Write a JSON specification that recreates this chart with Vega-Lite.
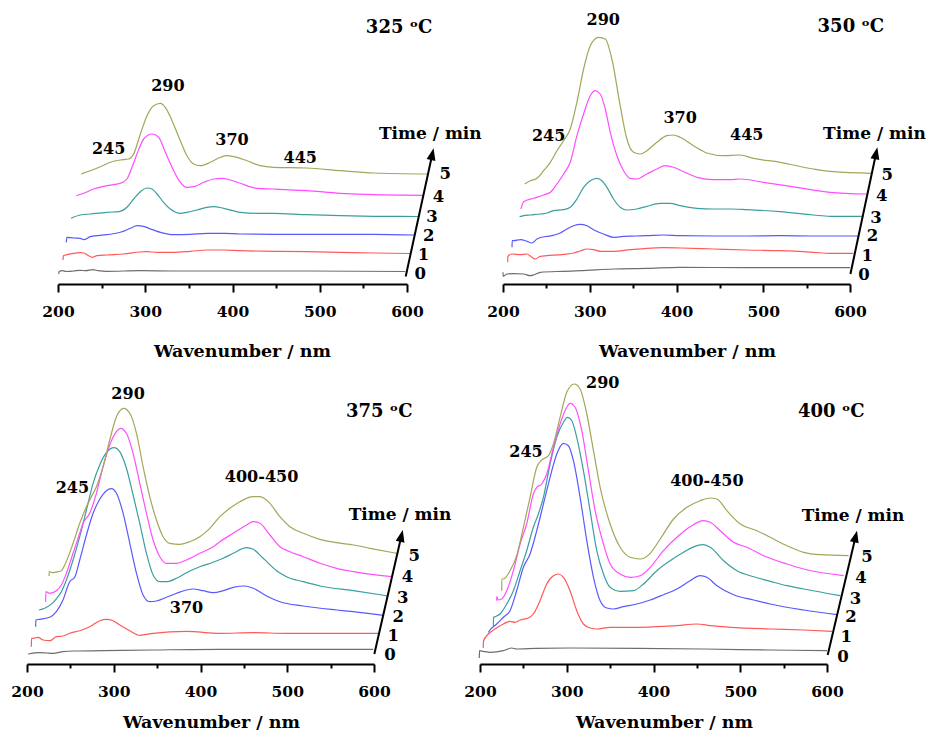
{
  "$schema": "https://vega.github.io/schema/vega-lite/v6.json",
  "padding": 0,
  "background": "white",
  "config": {
    "view": {"stroke": null},
    "axis": {
      "domainColor": "black", "domainWidth": 2, "tickColor": "black", "tickWidth": 2,
      "labelFont": "DejaVu Serif", "labelFontWeight": "bold", "labelFontSize": 15.5, "labelColor": "black",
      "labelPadding": 12, "labelFlush": false, "labelOverlap": false,
      "titleFont": "DejaVu Serif", "titleFontWeight": "bold", "titleFontSize": 17.5, "titleColor": "black",
      "titleX": 184, "titleY": 72, "titleBaseline": "alphabetic", "titleAlign": "center", "grid": false
    }
  },
  "datasets": {
    "spec": [
      {"p":1,"t":0,"nm":200.8,"a":10},{"p":1,"t":0,"nm":201.2,"a":12.5},{"p":1,"t":0,"nm":205,"a":13.3},{"p":1,"t":0,"nm":210,"a":12.5},{"p":1,"t":0,"nm":218,"a":13},{"p":1,"t":0,"nm":225,"a":13.7},{"p":1,"t":0,"nm":232,"a":13.3},{"p":1,"t":0,"nm":240,"a":14.3},{"p":1,"t":0,"nm":246,"a":13.3},{"p":1,"t":0,"nm":256,"a":12.7},{"p":1,"t":0,"nm":294,"a":13.3},{"p":1,"t":0,"nm":333,"a":13},{"p":1,"t":0,"nm":409,"a":13},{"p":1,"t":0,"nm":485,"a":13},{"p":1,"t":0,"nm":598,"a":12.5},
      {"p":1,"t":1,"nm":205.7,"a":24},{"p":1,"t":1,"nm":206.2,"a":28.3},{"p":1,"t":1,"nm":210.3,"a":29.3},{"p":1,"t":1,"nm":218,"a":30.7},{"p":1,"t":1,"nm":225.6,"a":31.3},{"p":1,"t":1,"nm":229.4,"a":31},{"p":1,"t":1,"nm":235,"a":28.3},{"p":1,"t":1,"nm":239,"a":26.7},{"p":1,"t":1,"nm":244.7,"a":28.3},{"p":1,"t":1,"nm":256,"a":29},{"p":1,"t":1,"nm":275,"a":30},{"p":1,"t":1,"nm":294,"a":32},{"p":1,"t":1,"nm":302,"a":32.3},{"p":1,"t":1,"nm":313.5,"a":31.7},{"p":1,"t":1,"nm":332.6,"a":31.7},{"p":1,"t":1,"nm":351.7,"a":32.7},{"p":1,"t":1,"nm":370.8,"a":34},{"p":1,"t":1,"nm":389.9,"a":34},{"p":1,"t":1,"nm":409,"a":33.3},{"p":1,"t":1,"nm":447,"a":32.7},{"p":1,"t":1,"nm":485,"a":32.3},{"p":1,"t":1,"nm":523.6,"a":31.7},{"p":1,"t":1,"nm":561.8,"a":31},{"p":1,"t":1,"nm":603.8,"a":30.5},
      {"p":1,"t":2,"nm":209.6,"a":41.7},{"p":1,"t":2,"nm":210.1,"a":46.7},{"p":1,"t":2,"nm":218,"a":46},{"p":1,"t":2,"nm":225.6,"a":45.7},{"p":1,"t":2,"nm":229.4,"a":44.3},{"p":1,"t":2,"nm":237,"a":47.3},{"p":1,"t":2,"nm":256,"a":49.3},{"p":1,"t":2,"nm":271.4,"a":51.7},{"p":1,"t":2,"nm":283,"a":55.7},{"p":1,"t":2,"nm":290.5,"a":58.3},{"p":1,"t":2,"nm":298,"a":57.7},{"p":1,"t":2,"nm":306,"a":55},{"p":1,"t":2,"nm":317.3,"a":51.7},{"p":1,"t":2,"nm":332.6,"a":49.3},{"p":1,"t":2,"nm":351.7,"a":49.7},{"p":1,"t":2,"nm":370.8,"a":50.7},{"p":1,"t":2,"nm":389.9,"a":50.7},{"p":1,"t":2,"nm":409,"a":50},{"p":1,"t":2,"nm":447,"a":49.7},{"p":1,"t":2,"nm":485,"a":49.7},{"p":1,"t":2,"nm":561.8,"a":49.7},{"p":1,"t":2,"nm":609,"a":49},
      {"p":1,"t":3,"nm":214.9,"a":65.7},{"p":1,"t":3,"nm":225.6,"a":69},{"p":1,"t":3,"nm":237,"a":70},{"p":1,"t":3,"nm":256,"a":71.7},{"p":1,"t":3,"nm":271.4,"a":72.7},{"p":1,"t":3,"nm":279,"a":76.7},{"p":1,"t":3,"nm":286.7,"a":85},{"p":1,"t":3,"nm":294.4,"a":92.3},{"p":1,"t":3,"nm":302,"a":96},{"p":1,"t":3,"nm":307.7,"a":95},{"p":1,"t":3,"nm":313.5,"a":90},{"p":1,"t":3,"nm":321,"a":81.7},{"p":1,"t":3,"nm":328.7,"a":75},{"p":1,"t":3,"nm":340.2,"a":70.7},{"p":1,"t":3,"nm":347.8,"a":71.7},{"p":1,"t":3,"nm":359.3,"a":74},{"p":1,"t":3,"nm":370.8,"a":76.7},{"p":1,"t":3,"nm":378.4,"a":77.3},{"p":1,"t":3,"nm":389.9,"a":75.7},{"p":1,"t":3,"nm":409,"a":71.7},{"p":1,"t":3,"nm":428,"a":70.7},{"p":1,"t":3,"nm":447,"a":70.7},{"p":1,"t":3,"nm":485,"a":69.3},{"p":1,"t":3,"nm":523.6,"a":68.3},{"p":1,"t":3,"nm":561.8,"a":67.7},{"p":1,"t":3,"nm":614,"a":67.5},
      {"p":1,"t":4,"nm":221,"a":88.3},{"p":1,"t":4,"nm":229.4,"a":90.7},{"p":1,"t":4,"nm":240.9,"a":95},{"p":1,"t":4,"nm":256,"a":98.3},{"p":1,"t":4,"nm":271.4,"a":100.7},{"p":1,"t":4,"nm":279,"a":105},{"p":1,"t":4,"nm":284.8,"a":116.7},{"p":1,"t":4,"nm":290.5,"a":130},{"p":1,"t":4,"nm":298.2,"a":145},{"p":1,"t":4,"nm":307.7,"a":150},{"p":1,"t":4,"nm":315.4,"a":146.7},{"p":1,"t":4,"nm":323,"a":131.7},{"p":1,"t":4,"nm":332.6,"a":113.3},{"p":1,"t":4,"nm":340.2,"a":101.7},{"p":1,"t":4,"nm":347.8,"a":96.7},{"p":1,"t":4,"nm":355.5,"a":97.3},{"p":1,"t":4,"nm":367,"a":101.7},{"p":1,"t":4,"nm":378.4,"a":105},{"p":1,"t":4,"nm":388,"a":105.7},{"p":1,"t":4,"nm":397.5,"a":104},{"p":1,"t":4,"nm":409,"a":100.7},{"p":1,"t":4,"nm":428,"a":95.7},{"p":1,"t":4,"nm":447,"a":95},{"p":1,"t":4,"nm":485,"a":93.3},{"p":1,"t":4,"nm":523.6,"a":90.7},{"p":1,"t":4,"nm":561.8,"a":89.3},{"p":1,"t":4,"nm":619,"a":88.7},
      {"p":1,"t":5,"nm":226.7,"a":110},{"p":1,"t":5,"nm":237,"a":113.3},{"p":1,"t":5,"nm":248.5,"a":117.3},{"p":1,"t":5,"nm":260,"a":121.7},{"p":1,"t":5,"nm":271.4,"a":124},{"p":1,"t":5,"nm":281,"a":125},{"p":1,"t":5,"nm":286.7,"a":130},{"p":1,"t":5,"nm":294.4,"a":150},{"p":1,"t":5,"nm":302,"a":168.3},{"p":1,"t":5,"nm":309.6,"a":178.3},{"p":1,"t":5,"nm":317.3,"a":180.7},{"p":1,"t":5,"nm":323,"a":176.7},{"p":1,"t":5,"nm":330.7,"a":163.3},{"p":1,"t":5,"nm":340.2,"a":143.3},{"p":1,"t":5,"nm":347.8,"a":128.3},{"p":1,"t":5,"nm":355.5,"a":120},{"p":1,"t":5,"nm":363.1,"a":118.3},{"p":1,"t":5,"nm":374.6,"a":121.7},{"p":1,"t":5,"nm":386.1,"a":126.7},{"p":1,"t":5,"nm":393.7,"a":128.3},{"p":1,"t":5,"nm":405.2,"a":126.7},{"p":1,"t":5,"nm":416.6,"a":123.3},{"p":1,"t":5,"nm":431.9,"a":118.3},{"p":1,"t":5,"nm":447,"a":116.7},{"p":1,"t":5,"nm":485,"a":116},{"p":1,"t":5,"nm":523.6,"a":113.3},{"p":1,"t":5,"nm":561.8,"a":111},{"p":1,"t":5,"nm":624.5,"a":110},

      {"p":2,"t":0,"nm":200,"a":11.7},{"p":2,"t":0,"nm":200.2,"a":7.7},{"p":2,"t":0,"nm":204.6,"a":10},{"p":2,"t":0,"nm":212.3,"a":10.3},{"p":2,"t":0,"nm":223.8,"a":10},{"p":2,"t":0,"nm":231.5,"a":8.3},{"p":2,"t":0,"nm":235.3,"a":9},{"p":2,"t":0,"nm":243,"a":11.7},{"p":2,"t":0,"nm":269.9,"a":12.7},{"p":2,"t":0,"nm":289.1,"a":13.3},{"p":2,"t":0,"nm":327.4,"a":15},{"p":2,"t":0,"nm":365.8,"a":15.7},{"p":2,"t":0,"nm":404.2,"a":16.7},{"p":2,"t":0,"nm":481,"a":16.3},{"p":2,"t":0,"nm":557.8,"a":16.3},{"p":2,"t":0,"nm":600,"a":16.3},
      {"p":2,"t":1,"nm":205.4,"a":21.7},{"p":2,"t":1,"nm":205.6,"a":27.7},{"p":2,"t":1,"nm":210.4,"a":30},{"p":2,"t":1,"nm":220,"a":29.3},{"p":2,"t":1,"nm":227.6,"a":30},{"p":2,"t":1,"nm":233.4,"a":26.7},{"p":2,"t":1,"nm":237.2,"a":25},{"p":2,"t":1,"nm":243,"a":27.7},{"p":2,"t":1,"nm":250.7,"a":28.3},{"p":2,"t":1,"nm":269.9,"a":29.7},{"p":2,"t":1,"nm":281.4,"a":31},{"p":2,"t":1,"nm":289.1,"a":33},{"p":2,"t":1,"nm":296.7,"a":35},{"p":2,"t":1,"nm":304.4,"a":34.3},{"p":2,"t":1,"nm":312.1,"a":32.7},{"p":2,"t":1,"nm":327.4,"a":32.7},{"p":2,"t":1,"nm":346.6,"a":34.3},{"p":2,"t":1,"nm":365.8,"a":35.7},{"p":2,"t":1,"nm":385,"a":36.3},{"p":2,"t":1,"nm":404.2,"a":36},{"p":2,"t":1,"nm":442.6,"a":35},{"p":2,"t":1,"nm":481,"a":34},{"p":2,"t":1,"nm":519.4,"a":33.3},{"p":2,"t":1,"nm":557.8,"a":31.7},{"p":2,"t":1,"nm":577,"a":30.7},{"p":2,"t":1,"nm":603.8,"a":30.7},
      {"p":2,"t":2,"nm":210.4,"a":36.7},{"p":2,"t":2,"nm":210.6,"a":43.3},{"p":2,"t":2,"nm":212.3,"a":43.3},{"p":2,"t":2,"nm":220,"a":44.3},{"p":2,"t":2,"nm":227.6,"a":42.7},{"p":2,"t":2,"nm":233.4,"a":41},{"p":2,"t":2,"nm":239.2,"a":45},{"p":2,"t":2,"nm":250.7,"a":47.7},{"p":2,"t":2,"nm":256.4,"a":48.3},{"p":2,"t":2,"nm":266,"a":51},{"p":2,"t":2,"nm":273.7,"a":55},{"p":2,"t":2,"nm":281.4,"a":58.3},{"p":2,"t":2,"nm":289.1,"a":59.7},{"p":2,"t":2,"nm":296.7,"a":58.3},{"p":2,"t":2,"nm":304.4,"a":54.3},{"p":2,"t":2,"nm":315.9,"a":50},{"p":2,"t":2,"nm":327.4,"a":46.7},{"p":2,"t":2,"nm":339,"a":47.7},{"p":2,"t":2,"nm":354.3,"a":48},{"p":2,"t":2,"nm":365.8,"a":48.3},{"p":2,"t":2,"nm":385,"a":49},{"p":2,"t":2,"nm":404.2,"a":48.3},{"p":2,"t":2,"nm":442.6,"a":48},{"p":2,"t":2,"nm":481,"a":48},{"p":2,"t":2,"nm":519.4,"a":48.3},{"p":2,"t":2,"nm":557.8,"a":48},{"p":2,"t":2,"nm":609.6,"a":48},
      {"p":2,"t":3,"nm":219.2,"a":67.3},{"p":2,"t":3,"nm":223.8,"a":68.3},{"p":2,"t":3,"nm":231.5,"a":69},{"p":2,"t":3,"nm":243,"a":70},{"p":2,"t":3,"nm":250.7,"a":71},{"p":2,"t":3,"nm":258.3,"a":73.3},{"p":2,"t":3,"nm":269.9,"a":74.3},{"p":2,"t":3,"nm":277.5,"a":76.7},{"p":2,"t":3,"nm":285.2,"a":85},{"p":2,"t":3,"nm":292.9,"a":96.7},{"p":2,"t":3,"nm":300.6,"a":103.3},{"p":2,"t":3,"nm":308.3,"a":105.7},{"p":2,"t":3,"nm":314,"a":103.3},{"p":2,"t":3,"nm":319.8,"a":96.7},{"p":2,"t":3,"nm":327.4,"a":85},{"p":2,"t":3,"nm":335.1,"a":76.7},{"p":2,"t":3,"nm":342.8,"a":74},{"p":2,"t":3,"nm":354.3,"a":75},{"p":2,"t":3,"nm":365.8,"a":77.7},{"p":2,"t":3,"nm":381.2,"a":80.7},{"p":2,"t":3,"nm":392.7,"a":80.7},{"p":2,"t":3,"nm":404.2,"a":78.3},{"p":2,"t":3,"nm":423.4,"a":75.7},{"p":2,"t":3,"nm":442.6,"a":75},{"p":2,"t":3,"nm":461.8,"a":75},{"p":2,"t":3,"nm":481,"a":74.3},{"p":2,"t":3,"nm":519.4,"a":72.3},{"p":2,"t":3,"nm":557.8,"a":69},{"p":2,"t":3,"nm":577,"a":67.7},{"p":2,"t":3,"nm":615.4,"a":67.7},
      {"p":2,"t":4,"nm":220.7,"a":75},{"p":2,"t":4,"nm":223.8,"a":82.3},{"p":2,"t":4,"nm":235.3,"a":85.7},{"p":2,"t":4,"nm":246.8,"a":89},{"p":2,"t":4,"nm":254.5,"a":91.7},{"p":2,"t":4,"nm":262.2,"a":100},{"p":2,"t":4,"nm":269.9,"a":110},{"p":2,"t":4,"nm":277.5,"a":121.7},{"p":2,"t":4,"nm":285.2,"a":148.3},{"p":2,"t":4,"nm":292.9,"a":170},{"p":2,"t":4,"nm":300.6,"a":188.3},{"p":2,"t":4,"nm":306.3,"a":193.3},{"p":2,"t":4,"nm":312.1,"a":190},{"p":2,"t":4,"nm":317.9,"a":175},{"p":2,"t":4,"nm":323.6,"a":151.7},{"p":2,"t":4,"nm":331.3,"a":128.3},{"p":2,"t":4,"nm":339,"a":113.3},{"p":2,"t":4,"nm":346.6,"a":105.7},{"p":2,"t":4,"nm":354.3,"a":105},{"p":2,"t":4,"nm":365.8,"a":110},{"p":2,"t":4,"nm":377.4,"a":115},{"p":2,"t":4,"nm":387,"a":118.3},{"p":2,"t":4,"nm":396.5,"a":116.7},{"p":2,"t":4,"nm":408.1,"a":112.3},{"p":2,"t":4,"nm":423.4,"a":106.7},{"p":2,"t":4,"nm":442.6,"a":104.3},{"p":2,"t":4,"nm":461.8,"a":104.3},{"p":2,"t":4,"nm":473.3,"a":105},{"p":2,"t":4,"nm":500.2,"a":101.7},{"p":2,"t":4,"nm":538.6,"a":96.7},{"p":2,"t":4,"nm":577,"a":91.7},{"p":2,"t":4,"nm":619.2,"a":90},
      {"p":2,"t":5,"nm":225,"a":100},{"p":2,"t":5,"nm":231.5,"a":103.3},{"p":2,"t":5,"nm":239.2,"a":105.7},{"p":2,"t":5,"nm":246.8,"a":113.3},{"p":2,"t":5,"nm":254.5,"a":121.7},{"p":2,"t":5,"nm":262.2,"a":133.3},{"p":2,"t":5,"nm":269.9,"a":143.3},{"p":2,"t":5,"nm":277.5,"a":155},{"p":2,"t":5,"nm":285.2,"a":181.7},{"p":2,"t":5,"nm":292.9,"a":215},{"p":2,"t":5,"nm":300.6,"a":238.3},{"p":2,"t":5,"nm":310.2,"a":246.7},{"p":2,"t":5,"nm":317.9,"a":245},{"p":2,"t":5,"nm":325.5,"a":225},{"p":2,"t":5,"nm":335.1,"a":178.3},{"p":2,"t":5,"nm":342.8,"a":145},{"p":2,"t":5,"nm":350.5,"a":131.7},{"p":2,"t":5,"nm":358.2,"a":130},{"p":2,"t":5,"nm":365.8,"a":133.3},{"p":2,"t":5,"nm":377.4,"a":141.7},{"p":2,"t":5,"nm":388.9,"a":148.3},{"p":2,"t":5,"nm":396.5,"a":149},{"p":2,"t":5,"nm":404.2,"a":146.7},{"p":2,"t":5,"nm":419.6,"a":138.3},{"p":2,"t":5,"nm":434.9,"a":131},{"p":2,"t":5,"nm":454.1,"a":128.3},{"p":2,"t":5,"nm":473.3,"a":129},{"p":2,"t":5,"nm":488.7,"a":125.7},{"p":2,"t":5,"nm":519.4,"a":121.7},{"p":2,"t":5,"nm":557.8,"a":115},{"p":2,"t":5,"nm":580.8,"a":112.3},{"p":2,"t":5,"nm":624.9,"a":110.7},

      {"p":3,"t":0,"nm":201.2,"a":10},{"p":3,"t":0,"nm":214.6,"a":11.3},{"p":3,"t":0,"nm":222.3,"a":11},{"p":3,"t":0,"nm":230,"a":10.7},{"p":3,"t":0,"nm":241.5,"a":12.3},{"p":3,"t":0,"nm":253.1,"a":13},{"p":3,"t":0,"nm":287.7,"a":13.3},{"p":3,"t":0,"nm":345.4,"a":14},{"p":3,"t":0,"nm":422.3,"a":14.7},{"p":3,"t":0,"nm":499.2,"a":14.7},{"p":3,"t":0,"nm":599.2,"a":14.7},
      {"p":3,"t":1,"nm":205,"a":17.3},{"p":3,"t":1,"nm":205.2,"a":25.7},{"p":3,"t":1,"nm":206.9,"a":25.7},{"p":3,"t":1,"nm":212.7,"a":26.7},{"p":3,"t":1,"nm":218.5,"a":24},{"p":3,"t":1,"nm":226.2,"a":23.3},{"p":3,"t":1,"nm":233.8,"a":27.3},{"p":3,"t":1,"nm":241.5,"a":28},{"p":3,"t":1,"nm":249.2,"a":30.7},{"p":3,"t":1,"nm":260.8,"a":33.3},{"p":3,"t":1,"nm":272.3,"a":37.3},{"p":3,"t":1,"nm":283.8,"a":43.3},{"p":3,"t":1,"nm":291.5,"a":44.7},{"p":3,"t":1,"nm":299.2,"a":43.3},{"p":3,"t":1,"nm":306.9,"a":39},{"p":3,"t":1,"nm":318.5,"a":33.3},{"p":3,"t":1,"nm":330,"a":28.7},{"p":3,"t":1,"nm":345.4,"a":30.7},{"p":3,"t":1,"nm":383.8,"a":32.7},{"p":3,"t":1,"nm":422.3,"a":30.7},{"p":3,"t":1,"nm":460.8,"a":31.3},{"p":3,"t":1,"nm":499.2,"a":30.7},{"p":3,"t":1,"nm":537.7,"a":30.7},{"p":3,"t":1,"nm":576.2,"a":30.7},{"p":3,"t":1,"nm":605,"a":30.7},
      {"p":3,"t":2,"nm":210,"a":37.3},{"p":3,"t":2,"nm":210.2,"a":44},{"p":3,"t":2,"nm":214.6,"a":44.7},{"p":3,"t":2,"nm":226.2,"a":46.7},{"p":3,"t":2,"nm":233.8,"a":52.3},{"p":3,"t":2,"nm":241.5,"a":64},{"p":3,"t":2,"nm":249.2,"a":82.3},{"p":3,"t":2,"nm":255,"a":86.7},{"p":3,"t":2,"nm":260.8,"a":104},{"p":3,"t":2,"nm":268.5,"a":129},{"p":3,"t":2,"nm":276.2,"a":150.7},{"p":3,"t":2,"nm":283.8,"a":164.7},{"p":3,"t":2,"nm":291.5,"a":173.3},{"p":3,"t":2,"nm":297.3,"a":175.3},{"p":3,"t":2,"nm":303.1,"a":170.7},{"p":3,"t":2,"nm":310.8,"a":150.7},{"p":3,"t":2,"nm":318.5,"a":120.7},{"p":3,"t":2,"nm":326.2,"a":90.7},{"p":3,"t":2,"nm":333.8,"a":69},{"p":3,"t":2,"nm":341.5,"a":62.3},{"p":3,"t":2,"nm":349.2,"a":63},{"p":3,"t":2,"nm":360.8,"a":66.7},{"p":3,"t":2,"nm":372.3,"a":70.7},{"p":3,"t":2,"nm":383.8,"a":74},{"p":3,"t":2,"nm":391.5,"a":75},{"p":3,"t":2,"nm":403.1,"a":73.3},{"p":3,"t":2,"nm":414.6,"a":71.3},{"p":3,"t":2,"nm":426.2,"a":73.3},{"p":3,"t":2,"nm":437.7,"a":76.7},{"p":3,"t":2,"nm":451.2,"a":78},{"p":3,"t":2,"nm":460.8,"a":75.7},{"p":3,"t":2,"nm":476.2,"a":68},{"p":3,"t":2,"nm":491.5,"a":62.3},{"p":3,"t":2,"nm":518.5,"a":58},{"p":3,"t":2,"nm":556.9,"a":54},{"p":3,"t":2,"nm":576.2,"a":52.3},{"p":3,"t":2,"nm":610.8,"a":48.7},
      {"p":3,"t":3,"nm":213.8,"a":54},{"p":3,"t":3,"nm":220.4,"a":55.7},{"p":3,"t":3,"nm":230,"a":61.3},{"p":3,"t":3,"nm":235.8,"a":67.3},{"p":3,"t":3,"nm":239.6,"a":72.3},{"p":3,"t":3,"nm":245.4,"a":84},{"p":3,"t":3,"nm":253.1,"a":104},{"p":3,"t":3,"nm":260.8,"a":127.3},{"p":3,"t":3,"nm":268.5,"a":154},{"p":3,"t":3,"nm":276.2,"a":180.7},{"p":3,"t":3,"nm":283.8,"a":199},{"p":3,"t":3,"nm":291.5,"a":211.3},{"p":3,"t":3,"nm":300.4,"a":216.3},{"p":3,"t":3,"nm":306.9,"a":212.3},{"p":3,"t":3,"nm":314.6,"a":195.7},{"p":3,"t":3,"nm":322.3,"a":169},{"p":3,"t":3,"nm":330,"a":140.7},{"p":3,"t":3,"nm":337.7,"a":110.7},{"p":3,"t":3,"nm":345.4,"a":89},{"p":3,"t":3,"nm":353.1,"a":82.3},{"p":3,"t":3,"nm":360.8,"a":82.3},{"p":3,"t":3,"nm":372.3,"a":85.7},{"p":3,"t":3,"nm":383.8,"a":91.3},{"p":3,"t":3,"nm":399.2,"a":97.3},{"p":3,"t":3,"nm":414.6,"a":101.7},{"p":3,"t":3,"nm":426.2,"a":105.7},{"p":3,"t":3,"nm":437.7,"a":110.7},{"p":3,"t":3,"nm":453.1,"a":116.3},{"p":3,"t":3,"nm":460.8,"a":114.7},{"p":3,"t":3,"nm":472.3,"a":105.7},{"p":3,"t":3,"nm":487.7,"a":93.3},{"p":3,"t":3,"nm":499.2,"a":87.3},{"p":3,"t":3,"nm":518.5,"a":82.3},{"p":3,"t":3,"nm":537.7,"a":78},{"p":3,"t":3,"nm":576.2,"a":73.3},{"p":3,"t":3,"nm":616.5,"a":68},
      {"p":3,"t":4,"nm":221.5,"a":62.3},{"p":3,"t":4,"nm":221.7,"a":72.3},{"p":3,"t":4,"nm":226.2,"a":70.7},{"p":3,"t":4,"nm":233.8,"a":73.3},{"p":3,"t":4,"nm":239.6,"a":79},{"p":3,"t":4,"nm":245.4,"a":90.7},{"p":3,"t":4,"nm":253.1,"a":110.7},{"p":3,"t":4,"nm":260.8,"a":130.7},{"p":3,"t":4,"nm":264.6,"a":140.7},{"p":3,"t":4,"nm":272.3,"a":150.7},{"p":3,"t":4,"nm":280,"a":170.7},{"p":3,"t":4,"nm":287.7,"a":197.3},{"p":3,"t":4,"nm":295.4,"a":219},{"p":3,"t":4,"nm":303.1,"a":232.3},{"p":3,"t":4,"nm":307.7,"a":235.7},{"p":3,"t":4,"nm":314.6,"a":230.7},{"p":3,"t":4,"nm":322.3,"a":210.7},{"p":3,"t":4,"nm":330,"a":180.7},{"p":3,"t":4,"nm":337.7,"a":150.7},{"p":3,"t":4,"nm":345.4,"a":124},{"p":3,"t":4,"nm":353.1,"a":107.3},{"p":3,"t":4,"nm":360.8,"a":100.7},{"p":3,"t":4,"nm":372.3,"a":100.7},{"p":3,"t":4,"nm":383.8,"a":104},{"p":3,"t":4,"nm":399.2,"a":110.7},{"p":3,"t":4,"nm":414.6,"a":117.3},{"p":3,"t":4,"nm":422.3,"a":122.3},{"p":3,"t":4,"nm":437.7,"a":130.7},{"p":3,"t":4,"nm":453.1,"a":139},{"p":3,"t":4,"nm":460.8,"a":142.3},{"p":3,"t":4,"nm":468.5,"a":140.7},{"p":3,"t":4,"nm":480,"a":129},{"p":3,"t":4,"nm":491.5,"a":117.3},{"p":3,"t":4,"nm":503.1,"a":112.3},{"p":3,"t":4,"nm":518.5,"a":107.3},{"p":3,"t":4,"nm":537.7,"a":100.7},{"p":3,"t":4,"nm":556.9,"a":95.7},{"p":3,"t":4,"nm":576.2,"a":92.3},{"p":3,"t":4,"nm":620.4,"a":87.3},
      {"p":3,"t":5,"nm":225.4,"a":88},{"p":3,"t":5,"nm":225.6,"a":92.3},{"p":3,"t":5,"nm":230,"a":91.3},{"p":3,"t":5,"nm":235.8,"a":92.3},{"p":3,"t":5,"nm":239.6,"a":93.3},{"p":3,"t":5,"nm":243.5,"a":99},{"p":3,"t":5,"nm":253.1,"a":120.7},{"p":3,"t":5,"nm":260.8,"a":140.7},{"p":3,"t":5,"nm":268.5,"a":157.3},{"p":3,"t":5,"nm":274.2,"a":167.3},{"p":3,"t":5,"nm":280,"a":177.3},{"p":3,"t":5,"nm":287.7,"a":197.3},{"p":3,"t":5,"nm":295.4,"a":224},{"p":3,"t":5,"nm":303.1,"a":247.3},{"p":3,"t":5,"nm":311.5,"a":255.7},{"p":3,"t":5,"nm":318.5,"a":250.7},{"p":3,"t":5,"nm":326.2,"a":230.7},{"p":3,"t":5,"nm":333.8,"a":197.3},{"p":3,"t":5,"nm":341.5,"a":167.3},{"p":3,"t":5,"nm":349.2,"a":144},{"p":3,"t":5,"nm":356.9,"a":127.3},{"p":3,"t":5,"nm":364.6,"a":120.7},{"p":3,"t":5,"nm":376.2,"a":119.7},{"p":3,"t":5,"nm":387.7,"a":122.3},{"p":3,"t":5,"nm":399.2,"a":127.3},{"p":3,"t":5,"nm":410.8,"a":135.7},{"p":3,"t":5,"nm":422.3,"a":147.3},{"p":3,"t":5,"nm":433.8,"a":155.7},{"p":3,"t":5,"nm":445.4,"a":162.3},{"p":3,"t":5,"nm":460.8,"a":167.3},{"p":3,"t":5,"nm":468.5,"a":167.3},{"p":3,"t":5,"nm":480,"a":160.7},{"p":3,"t":5,"nm":491.5,"a":147.3},{"p":3,"t":5,"nm":503.1,"a":137.3},{"p":3,"t":5,"nm":518.5,"a":130.7},{"p":3,"t":5,"nm":537.7,"a":124.7},{"p":3,"t":5,"nm":556.9,"a":121.3},{"p":3,"t":5,"nm":576.2,"a":119},{"p":3,"t":5,"nm":595.4,"a":115.7},{"p":3,"t":5,"nm":626.2,"a":110.7},

      {"p":4,"t":0,"nm":199.2,"a":6},{"p":4,"t":0,"nm":199.4,"a":13.3},{"p":4,"t":0,"nm":203.8,"a":12.7},{"p":4,"t":0,"nm":211.5,"a":11.7},{"p":4,"t":0,"nm":226.9,"a":13.3},{"p":4,"t":0,"nm":236.5,"a":16},{"p":4,"t":0,"nm":242.3,"a":15},{"p":4,"t":0,"nm":265.4,"a":15.7},{"p":4,"t":0,"nm":303.8,"a":16},{"p":4,"t":0,"nm":380.8,"a":15.7},{"p":4,"t":0,"nm":457.7,"a":15},{"p":4,"t":0,"nm":534.6,"a":14},{"p":4,"t":0,"nm":600,"a":13.3},
      {"p":4,"t":1,"nm":203.8,"a":16},{"p":4,"t":1,"nm":204,"a":22.7},{"p":4,"t":1,"nm":209.6,"a":30},{"p":4,"t":1,"nm":217.3,"a":35},{"p":4,"t":1,"nm":226.9,"a":40},{"p":4,"t":1,"nm":234.6,"a":42.7},{"p":4,"t":1,"nm":240.4,"a":41.7},{"p":4,"t":1,"nm":246.2,"a":44},{"p":4,"t":1,"nm":255.8,"a":46},{"p":4,"t":1,"nm":261.5,"a":50},{"p":4,"t":1,"nm":269.2,"a":63.3},{"p":4,"t":1,"nm":276.9,"a":80},{"p":4,"t":1,"nm":284.6,"a":88.3},{"p":4,"t":1,"nm":290.4,"a":90},{"p":4,"t":1,"nm":296.2,"a":86.7},{"p":4,"t":1,"nm":303.8,"a":73.3},{"p":4,"t":1,"nm":311.5,"a":53.3},{"p":4,"t":1,"nm":319.2,"a":40},{"p":4,"t":1,"nm":326.9,"a":36},{"p":4,"t":1,"nm":334.6,"a":35},{"p":4,"t":1,"nm":350,"a":36.7},{"p":4,"t":1,"nm":380.8,"a":36.7},{"p":4,"t":1,"nm":403.8,"a":37.3},{"p":4,"t":1,"nm":426.9,"a":38.3},{"p":4,"t":1,"nm":450,"a":40},{"p":4,"t":1,"nm":465.4,"a":38.3},{"p":4,"t":1,"nm":488.5,"a":36.7},{"p":4,"t":1,"nm":534.6,"a":35},{"p":4,"t":1,"nm":573.1,"a":34},{"p":4,"t":1,"nm":605.8,"a":32.7},
      {"p":4,"t":2,"nm":209.6,"a":31.7},{"p":4,"t":2,"nm":211.5,"a":34},{"p":4,"t":2,"nm":219.2,"a":40},{"p":4,"t":2,"nm":226.9,"a":46.7},{"p":4,"t":2,"nm":234.6,"a":53.3},{"p":4,"t":2,"nm":242.3,"a":73.3},{"p":4,"t":2,"nm":250,"a":96.7},{"p":4,"t":2,"nm":257.7,"a":110},{"p":4,"t":2,"nm":265.4,"a":133.3},{"p":4,"t":2,"nm":273.1,"a":160},{"p":4,"t":2,"nm":280.8,"a":186.7},{"p":4,"t":2,"nm":288.5,"a":210},{"p":4,"t":2,"nm":296.2,"a":220.7},{"p":4,"t":2,"nm":301.9,"a":218.3},{"p":4,"t":2,"nm":307.7,"a":203.3},{"p":4,"t":2,"nm":315.4,"a":166.7},{"p":4,"t":2,"nm":323.1,"a":123.3},{"p":4,"t":2,"nm":330.8,"a":86.7},{"p":4,"t":2,"nm":338.5,"a":63.3},{"p":4,"t":2,"nm":346.2,"a":56},{"p":4,"t":2,"nm":353.8,"a":55},{"p":4,"t":2,"nm":365.4,"a":57.3},{"p":4,"t":2,"nm":380.8,"a":60},{"p":4,"t":2,"nm":396.2,"a":64},{"p":4,"t":2,"nm":411.5,"a":69.3},{"p":4,"t":2,"nm":426.9,"a":75},{"p":4,"t":2,"nm":442.3,"a":83.3},{"p":4,"t":2,"nm":453.8,"a":88.3},{"p":4,"t":2,"nm":461.5,"a":86.7},{"p":4,"t":2,"nm":473.1,"a":78.3},{"p":4,"t":2,"nm":492.3,"a":69.3},{"p":4,"t":2,"nm":515.4,"a":64},{"p":4,"t":2,"nm":534.6,"a":60},{"p":4,"t":2,"nm":573.1,"a":54},{"p":4,"t":2,"nm":611.5,"a":49.3},
      {"p":4,"t":3,"nm":215.4,"a":37.3},{"p":4,"t":3,"nm":215.6,"a":46.7},{"p":4,"t":3,"nm":217.3,"a":47.3},{"p":4,"t":3,"nm":223.1,"a":50},{"p":4,"t":3,"nm":230.8,"a":60},{"p":4,"t":3,"nm":238.5,"a":73.3},{"p":4,"t":3,"nm":246.2,"a":93.3},{"p":4,"t":3,"nm":253.8,"a":113.3},{"p":4,"t":3,"nm":261.5,"a":136.7},{"p":4,"t":3,"nm":267.3,"a":150},{"p":4,"t":3,"nm":273.1,"a":166.7},{"p":4,"t":3,"nm":280.8,"a":200},{"p":4,"t":3,"nm":288.5,"a":226.7},{"p":4,"t":3,"nm":296.2,"a":241.7},{"p":4,"t":3,"nm":300.8,"a":246.7},{"p":4,"t":3,"nm":305.8,"a":243.3},{"p":4,"t":3,"nm":311.5,"a":226.7},{"p":4,"t":3,"nm":319.2,"a":193.3},{"p":4,"t":3,"nm":326.9,"a":153.3},{"p":4,"t":3,"nm":334.6,"a":113.3},{"p":4,"t":3,"nm":342.3,"a":90},{"p":4,"t":3,"nm":350,"a":76.7},{"p":4,"t":3,"nm":361.5,"a":72.7},{"p":4,"t":3,"nm":376.9,"a":73.3},{"p":4,"t":3,"nm":388.5,"a":80},{"p":4,"t":3,"nm":403.8,"a":93.3},{"p":4,"t":3,"nm":419.2,"a":103.3},{"p":4,"t":3,"nm":434.6,"a":111.7},{"p":4,"t":3,"nm":450,"a":118.3},{"p":4,"t":3,"nm":457.7,"a":119.3},{"p":4,"t":3,"nm":465.4,"a":116.7},{"p":4,"t":3,"nm":480.8,"a":103.3},{"p":4,"t":3,"nm":496.2,"a":93.3},{"p":4,"t":3,"nm":515.4,"a":87.3},{"p":4,"t":3,"nm":534.6,"a":82.7},{"p":4,"t":3,"nm":553.8,"a":78.3},{"p":4,"t":3,"nm":573.1,"a":75},{"p":4,"t":3,"nm":615.4,"a":68.3},
      {"p":4,"t":4,"nm":219.2,"a":63.3},{"p":4,"t":4,"nm":219.4,"a":67.3},{"p":4,"t":4,"nm":221.2,"a":64},{"p":4,"t":4,"nm":225,"a":65},{"p":4,"t":4,"nm":230.8,"a":73.3},{"p":4,"t":4,"nm":238.5,"a":93.3},{"p":4,"t":4,"nm":246.2,"a":120},{"p":4,"t":4,"nm":253.8,"a":140},{"p":4,"t":4,"nm":261.5,"a":170},{"p":4,"t":4,"nm":265.4,"a":176.7},{"p":4,"t":4,"nm":271.2,"a":180},{"p":4,"t":4,"nm":276.9,"a":190},{"p":4,"t":4,"nm":284.6,"a":216.7},{"p":4,"t":4,"nm":292.3,"a":240},{"p":4,"t":4,"nm":300,"a":256.7},{"p":4,"t":4,"nm":303.8,"a":260.7},{"p":4,"t":4,"nm":309.6,"a":256.7},{"p":4,"t":4,"nm":317.3,"a":233.3},{"p":4,"t":4,"nm":325,"a":193.3},{"p":4,"t":4,"nm":332.7,"a":153.3},{"p":4,"t":4,"nm":342.3,"a":120},{"p":4,"t":4,"nm":350,"a":100},{"p":4,"t":4,"nm":361.5,"a":90},{"p":4,"t":4,"nm":373.1,"a":86.7},{"p":4,"t":4,"nm":384.6,"a":88.3},{"p":4,"t":4,"nm":396.2,"a":96.7},{"p":4,"t":4,"nm":411.5,"a":113.3},{"p":4,"t":4,"nm":426.9,"a":126.7},{"p":4,"t":4,"nm":442.3,"a":137.3},{"p":4,"t":4,"nm":457.7,"a":143.3},{"p":4,"t":4,"nm":465.4,"a":141.7},{"p":4,"t":4,"nm":476.9,"a":133.3},{"p":4,"t":4,"nm":492.3,"a":121.7},{"p":4,"t":4,"nm":507.7,"a":116.7},{"p":4,"t":4,"nm":526.9,"a":108.3},{"p":4,"t":4,"nm":553.8,"a":100},{"p":4,"t":4,"nm":573.1,"a":95},{"p":4,"t":4,"nm":619.2,"a":88.3},
      {"p":4,"t":5,"nm":225,"a":73.3},{"p":4,"t":5,"nm":225.2,"a":85},{"p":4,"t":5,"nm":226.9,"a":85},{"p":4,"t":5,"nm":234.6,"a":93.3},{"p":4,"t":5,"nm":242.3,"a":108.3},{"p":4,"t":5,"nm":250,"a":136.7},{"p":4,"t":5,"nm":257.7,"a":166.7},{"p":4,"t":5,"nm":265.4,"a":196.7},{"p":4,"t":5,"nm":271.2,"a":204},{"p":4,"t":5,"nm":278.8,"a":208.3},{"p":4,"t":5,"nm":284.6,"a":220},{"p":4,"t":5,"nm":292.3,"a":246.7},{"p":4,"t":5,"nm":300,"a":271.7},{"p":4,"t":5,"nm":308.5,"a":280},{"p":4,"t":5,"nm":315.4,"a":275},{"p":4,"t":5,"nm":323.1,"a":250},{"p":4,"t":5,"nm":330.8,"a":213.3},{"p":4,"t":5,"nm":338.5,"a":176.7},{"p":4,"t":5,"nm":350,"a":140},{"p":4,"t":5,"nm":361.5,"a":116.7},{"p":4,"t":5,"nm":373.1,"a":106.7},{"p":4,"t":5,"nm":384.6,"a":105},{"p":4,"t":5,"nm":396.2,"a":110.7},{"p":4,"t":5,"nm":407.7,"a":125},{"p":4,"t":5,"nm":423.1,"a":145},{"p":4,"t":5,"nm":438.5,"a":156.7},{"p":4,"t":5,"nm":453.8,"a":163.3},{"p":4,"t":5,"nm":465.4,"a":166},{"p":4,"t":5,"nm":473.1,"a":165},{"p":4,"t":5,"nm":484.6,"a":153.3},{"p":4,"t":5,"nm":500,"a":140},{"p":4,"t":5,"nm":519.2,"a":133.3},{"p":4,"t":5,"nm":534.6,"a":126.7},{"p":4,"t":5,"nm":553.8,"a":118.3},{"p":4,"t":5,"nm":573.1,"a":111.7},{"p":4,"t":5,"nm":592.3,"a":109.3},{"p":4,"t":5,"nm":625,"a":108.3}
    ],
    "tax": [
      {"p":1,"nm":598.5,"a":7.5,"nm2":629.0,"a2":129.8},
      {"p":2,"nm":600.5,"a":10,"nm2":630.1,"a2":130.8},
      {"p":3,"nm":600.4,"a":10,"nm2":631.6,"a2":128.2},
      {"p":4,"nm":600.8,"a":9,"nm2":633.0,"a2":127.5}
    ],
    "tlab": [
      {"p":1,"t":0,"nm":615.2,"a":9.7},{"p":1,"t":1,"nm":619,"a":29},{"p":1,"t":2,"nm":624.8,"a":48},{"p":1,"t":3,"nm":628.6,"a":67},{"p":1,"t":4,"nm":636.2,"a":87},{"p":1,"t":5,"nm":643.9,"a":109.7},
      {"p":2,"t":0,"nm":616,"a":9},{"p":2,"t":1,"nm":620,"a":27.7},{"p":2,"t":2,"nm":626,"a":47.7},{"p":2,"t":3,"nm":630,"a":65.7},{"p":2,"t":4,"nm":636.5,"a":88.3},{"p":2,"t":5,"nm":643,"a":109},
      {"p":3,"t":0,"nm":618.5,"a":9},{"p":3,"t":1,"nm":622.3,"a":28},{"p":3,"t":2,"nm":628,"a":47.3},{"p":3,"t":3,"nm":633,"a":65.7},{"p":3,"t":4,"nm":638.5,"a":87.3},{"p":3,"t":5,"nm":646.5,"a":108.3},
      {"p":4,"t":0,"nm":618.5,"a":7.3},{"p":4,"t":1,"nm":622.3,"a":26.7},{"p":4,"t":2,"nm":627.7,"a":46.7},{"p":4,"t":3,"nm":632.7,"a":64.7},{"p":4,"t":4,"nm":639.2,"a":86},{"p":4,"t":5,"nm":646.2,"a":107.3}
    ],
    "ann": [
      {"p":1,"kind":"peak","label":"245","nm":258,"a":135},{"p":1,"kind":"peak","label":"290","nm":326,"a":198.3},{"p":1,"kind":"peak","label":"370","nm":399.4,"a":144.3},{"p":1,"kind":"peak","label":"445","nm":477.7,"a":125.7},
      {"p":1,"kind":"axis","label":"Time / min","nm":626.7,"a":150},{"p":1,"kind":"title","label":"325 ᵒC","nm":591,"a":256},
      {"p":2,"kind":"peak","label":"245","nm":252.6,"a":148.3},{"p":2,"kind":"peak","label":"290","nm":315.5,"a":264},{"p":2,"kind":"peak","label":"370","nm":404.2,"a":166},{"p":2,"kind":"peak","label":"445","nm":481,"a":149},
      {"p":2,"kind":"axis","label":"Time / min","nm":628.2,"a":150},{"p":2,"kind":"title","label":"350 ᵒC","nm":601,"a":257},
      {"p":3,"kind":"peak","label":"245","nm":252.3,"a":175.7},{"p":3,"kind":"peak","label":"290","nm":316.5,"a":270},{"p":3,"kind":"peak","label":"370","nm":383.8,"a":55.7},{"p":3,"kind":"peak","label":"400-450","nm":470.4,"a":187.3},
      {"p":3,"kind":"axis","label":"Time / min","nm":630,"a":149},{"p":3,"kind":"title","label":"375 ᵒC","nm":606,"a":251.7},
      {"p":4,"kind":"peak","label":"245","nm":253,"a":211.7},{"p":4,"kind":"peak","label":"290","nm":341.5,"a":280.7},{"p":4,"kind":"peak","label":"400-450","nm":461.5,"a":182.7},
      {"p":4,"kind":"axis","label":"Time / min","nm":630,"a":147.7},{"p":4,"kind":"title","label":"400 ᵒC","nm":605,"a":251.7}
    ]
  },
  "vconcat": [
    {
      "hconcat": [
        {"width": 58, "height": 284, "data": {"values": [{}]}, "mark": {"type": "text", "text": ""}, "encoding": {}},
        {
          "width": 349, "height": 284,
          "encoding": {
            "x": {"field": "nm", "type": "quantitative", "scale": {"domain": [200, 600], "nice": false, "zero": false},
                  "axis": {"title": "Wavenumber / nm", "values": [200,250,300,350,400,450,500,550,600], "format": "d", "labelExpr": "datum.value % 100 === 0 ? datum.label : ''", "tickSize": {"condition": {"test": "datum.value % 100 === 0", "value": 8}, "value": 4}}},
            "y": {"field": "a", "type": "quantitative", "scale": {"domain": [0, 284], "nice": false, "zero": false}, "axis": null}
          },
          "layer": [
            {"data": {"name": "spec"}, "transform": [{"filter": "datum.p === 1"}], "mark": {"type": "line", "strokeWidth": 1.2, "interpolate": "monotone"},
             "encoding": {"color": {"field": "t", "type": "nominal", "scale": {"domain": [0,1,2,3,4,5], "range": ["#6e6e6e","#ff5959","#5959ff","#3a9f9f","#ff4dff","#a5a55a"]}, "legend": null}}},
            {"data": {"name": "tax"}, "transform": [{"filter": "datum.p === 1"}], "mark": {"type": "rule", "strokeWidth": 2, "color": "black"}, "encoding": {"x2": {"field": "nm2"}, "y2": {"field": "a2"}}},
            {"data": {"name": "tax"}, "transform": [{"filter": "datum.p === 1"}], "mark": {"type": "point", "shape": "M0,-1L0.75,1L-0.75,1Z", "filled": true, "color": "black", "opacity": 1, "size": 144, "angle": 12.3},
             "encoding": {"x": {"field": "nm2", "type": "quantitative"}, "y": {"field": "a2", "type": "quantitative"}}},
            {"data": {"name": "tlab"}, "transform": [{"filter": "datum.p === 1"}], "mark": {"type": "text", "font": "DejaVu Serif", "fontWeight": "bold", "fontSize": 16.5, "baseline": "middle", "color": "black"}, "encoding": {"text": {"field": "t"}}},
            {"data": {"name": "ann"}, "transform": [{"filter": "datum.p === 1 && datum.kind === 'peak'"}], "mark": {"type": "text", "font": "DejaVu Serif", "fontWeight": "bold", "fontSize": 16, "baseline": "middle", "color": "black"}, "encoding": {"text": {"field": "label"}}},
            {"data": {"name": "ann"}, "transform": [{"filter": "datum.p === 1 && datum.kind === 'axis'"}], "mark": {"type": "text", "font": "DejaVu Serif", "fontWeight": "bold", "fontSize": 17, "baseline": "middle", "color": "black"}, "encoding": {"text": {"field": "label"}}},
            {"data": {"name": "ann"}, "transform": [{"filter": "datum.p === 1 && datum.kind === 'title'"}], "mark": {"type": "text", "font": "DejaVu Serif", "fontWeight": "bold", "fontSize": 18, "baseline": "middle", "color": "black"}, "encoding": {"text": {"field": "label"}}}
          ]
        },
        {"width": 96, "height": 284, "data": {"values": [{}]}, "mark": {"type": "text", "text": ""}, "encoding": {}},
        {
          "width": 347, "height": 284,
          "encoding": {
            "x": {"field": "nm", "type": "quantitative", "scale": {"domain": [200, 600], "nice": false, "zero": false},
                  "axis": {"title": "Wavenumber / nm", "values": [200,250,300,350,400,450,500,550,600], "format": "d", "labelExpr": "datum.value % 100 === 0 ? datum.label : ''", "tickSize": {"condition": {"test": "datum.value % 100 === 0", "value": 8}, "value": 4}}},
            "y": {"field": "a", "type": "quantitative", "scale": {"domain": [0, 284], "nice": false, "zero": false}, "axis": null}
          },
          "layer": [
            {"data": {"name": "spec"}, "transform": [{"filter": "datum.p === 2"}], "mark": {"type": "line", "strokeWidth": 1.2, "interpolate": "monotone"},
             "encoding": {"color": {"field": "t", "type": "nominal", "scale": {"domain": [0,1,2,3,4,5], "range": ["#6e6e6e","#ff5959","#5959ff","#3fae8a","#ff4dff","#a5a55a"]}, "legend": null}}},
            {"data": {"name": "tax"}, "transform": [{"filter": "datum.p === 2"}], "mark": {"type": "rule", "strokeWidth": 2, "color": "black"}, "encoding": {"x2": {"field": "nm2"}, "y2": {"field": "a2"}}},
            {"data": {"name": "tax"}, "transform": [{"filter": "datum.p === 2"}], "mark": {"type": "point", "shape": "M0,-1L0.75,1L-0.75,1Z", "filled": true, "color": "black", "opacity": 1, "size": 144, "angle": 12},
             "encoding": {"x": {"field": "nm2", "type": "quantitative"}, "y": {"field": "a2", "type": "quantitative"}}},
            {"data": {"name": "tlab"}, "transform": [{"filter": "datum.p === 2"}], "mark": {"type": "text", "font": "DejaVu Serif", "fontWeight": "bold", "fontSize": 16.5, "baseline": "middle", "color": "black"}, "encoding": {"text": {"field": "t"}}},
            {"data": {"name": "ann"}, "transform": [{"filter": "datum.p === 2 && datum.kind === 'peak'"}], "mark": {"type": "text", "font": "DejaVu Serif", "fontWeight": "bold", "fontSize": 16, "baseline": "middle", "color": "black"}, "encoding": {"text": {"field": "label"}}},
            {"data": {"name": "ann"}, "transform": [{"filter": "datum.p === 2 && datum.kind === 'axis'"}], "mark": {"type": "text", "font": "DejaVu Serif", "fontWeight": "bold", "fontSize": 17, "baseline": "middle", "color": "black"}, "encoding": {"text": {"field": "label"}}},
            {"data": {"name": "ann"}, "transform": [{"filter": "datum.p === 2 && datum.kind === 'title'"}], "mark": {"type": "text", "font": "DejaVu Serif", "fontWeight": "bold", "fontSize": 18, "baseline": "middle", "color": "black"}, "encoding": {"text": {"field": "label"}}}
          ]
        }
      ],
      "spacing": 0, "bounds": "flush"
    },
    {
      "hconcat": [
        {"width": 27, "height": 292, "data": {"values": [{}]}, "mark": {"type": "text", "text": ""}, "encoding": {}},
        {
          "width": 347, "height": 292,
          "encoding": {
            "x": {"field": "nm", "type": "quantitative", "scale": {"domain": [200, 600], "nice": false, "zero": false},
                  "axis": {"title": "Wavenumber / nm", "titleY": 63, "values": [200,250,300,350,400,450,500,550,600], "format": "d", "labelExpr": "datum.value % 100 === 0 ? datum.label : ''", "tickSize": {"condition": {"test": "datum.value % 100 === 0", "value": 8}, "value": 4}}},
            "y": {"field": "a", "type": "quantitative", "scale": {"domain": [0, 292], "nice": false, "zero": false}, "axis": null}
          },
          "layer": [
            {"data": {"name": "spec"}, "transform": [{"filter": "datum.p === 3"}], "mark": {"type": "line", "strokeWidth": 1.2, "interpolate": "monotone"},
             "encoding": {"color": {"field": "t", "type": "nominal", "scale": {"domain": [0,1,2,3,4,5], "range": ["#6e6e6e","#ff5959","#5959ff","#3a9f9f","#ff4dff","#a5a55a"]}, "legend": null}}},
            {"data": {"name": "tax"}, "transform": [{"filter": "datum.p === 3"}], "mark": {"type": "rule", "strokeWidth": 2, "color": "black"}, "encoding": {"x2": {"field": "nm2"}, "y2": {"field": "a2"}}},
            {"data": {"name": "tax"}, "transform": [{"filter": "datum.p === 3"}], "mark": {"type": "point", "shape": "M0,-1L0.75,1L-0.75,1Z", "filled": true, "color": "black", "opacity": 1, "size": 144, "angle": 12.9},
             "encoding": {"x": {"field": "nm2", "type": "quantitative"}, "y": {"field": "a2", "type": "quantitative"}}},
            {"data": {"name": "tlab"}, "transform": [{"filter": "datum.p === 3"}], "mark": {"type": "text", "font": "DejaVu Serif", "fontWeight": "bold", "fontSize": 16.5, "baseline": "middle", "color": "black"}, "encoding": {"text": {"field": "t"}}},
            {"data": {"name": "ann"}, "transform": [{"filter": "datum.p === 3 && datum.kind === 'peak'"}], "mark": {"type": "text", "font": "DejaVu Serif", "fontWeight": "bold", "fontSize": 16, "baseline": "middle", "color": "black"}, "encoding": {"text": {"field": "label"}}},
            {"data": {"name": "ann"}, "transform": [{"filter": "datum.p === 3 && datum.kind === 'axis'"}], "mark": {"type": "text", "font": "DejaVu Serif", "fontWeight": "bold", "fontSize": 17, "baseline": "middle", "color": "black"}, "encoding": {"text": {"field": "label"}}},
            {"data": {"name": "ann"}, "transform": [{"filter": "datum.p === 3 && datum.kind === 'title'"}], "mark": {"type": "text", "font": "DejaVu Serif", "fontWeight": "bold", "fontSize": 18, "baseline": "middle", "color": "black"}, "encoding": {"text": {"field": "label"}}}
          ]
        },
        {"width": 106, "height": 292, "data": {"values": [{}]}, "mark": {"type": "text", "text": ""}, "encoding": {}},
        {
          "width": 347, "height": 292,
          "encoding": {
            "x": {"field": "nm", "type": "quantitative", "scale": {"domain": [200, 600], "nice": false, "zero": false},
                  "axis": {"title": "Wavenumber / nm", "titleY": 63, "values": [200,250,300,350,400,450,500,550,600], "format": "d", "labelExpr": "datum.value % 100 === 0 ? datum.label : ''", "tickSize": {"condition": {"test": "datum.value % 100 === 0", "value": 8}, "value": 4}}},
            "y": {"field": "a", "type": "quantitative", "scale": {"domain": [0, 292], "nice": false, "zero": false}, "axis": null}
          },
          "layer": [
            {"data": {"name": "spec"}, "transform": [{"filter": "datum.p === 4"}], "mark": {"type": "line", "strokeWidth": 1.2, "interpolate": "monotone"},
             "encoding": {"color": {"field": "t", "type": "nominal", "scale": {"domain": [0,1,2,3,4,5], "range": ["#6e6e6e","#ff5959","#5959ff","#3a9f9f","#ff4dff","#a5a55a"]}, "legend": null}}},
            {"data": {"name": "tax"}, "transform": [{"filter": "datum.p === 4"}], "mark": {"type": "rule", "strokeWidth": 2, "color": "black"}, "encoding": {"x2": {"field": "nm2"}, "y2": {"field": "a2"}}},
            {"data": {"name": "tax"}, "transform": [{"filter": "datum.p === 4"}], "mark": {"type": "point", "shape": "M0,-1L0.75,1L-0.75,1Z", "filled": true, "color": "black", "opacity": 1, "size": 144, "angle": 13.3},
             "encoding": {"x": {"field": "nm2", "type": "quantitative"}, "y": {"field": "a2", "type": "quantitative"}}},
            {"data": {"name": "tlab"}, "transform": [{"filter": "datum.p === 4"}], "mark": {"type": "text", "font": "DejaVu Serif", "fontWeight": "bold", "fontSize": 16.5, "baseline": "middle", "color": "black"}, "encoding": {"text": {"field": "t"}}},
            {"data": {"name": "ann"}, "transform": [{"filter": "datum.p === 4 && datum.kind === 'peak'"}], "mark": {"type": "text", "font": "DejaVu Serif", "fontWeight": "bold", "fontSize": 16, "baseline": "middle", "color": "black"}, "encoding": {"text": {"field": "label"}}},
            {"data": {"name": "ann"}, "transform": [{"filter": "datum.p === 4 && datum.kind === 'axis'"}], "mark": {"type": "text", "font": "DejaVu Serif", "fontWeight": "bold", "fontSize": 17, "baseline": "middle", "color": "black"}, "encoding": {"text": {"field": "label"}}},
            {"data": {"name": "ann"}, "transform": [{"filter": "datum.p === 4 && datum.kind === 'title'"}], "mark": {"type": "text", "font": "DejaVu Serif", "fontWeight": "bold", "fontSize": 18, "baseline": "middle", "color": "black"}, "encoding": {"text": {"field": "label"}}}
          ]
        }
      ],
      "spacing": 0, "bounds": "flush"
    }
  ],
  "spacing": 12, "bounds": "full"
}
